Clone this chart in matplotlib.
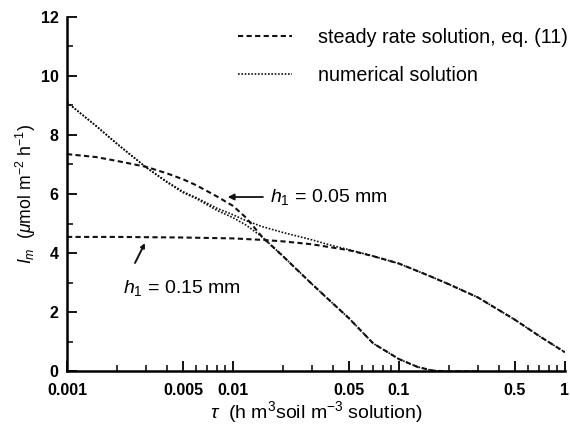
import matplotlib
matplotlib.use("Agg")
import matplotlib.pyplot as plt
from matplotlib.ticker import FixedLocator, NullFormatter, FixedFormatter

plt.rcParams["font.family"] = ["Liberation Sans", "DejaVu Sans"]
plt.rcParams["mathtext.fontset"] = "custom"
plt.rcParams["mathtext.rm"] = "Liberation Sans"
plt.rcParams["mathtext.it"] = "Liberation Sans:italic"

# steady rate solution, eq. (11)
tau_s05 = [0.001, 0.0015, 0.002, 0.003, 0.004, 0.005, 0.006, 0.008, 0.01,
           0.012, 0.015, 0.02, 0.03, 0.04, 0.05, 0.07, 0.1, 0.13, 0.16, 0.2, 0.3]
im_s05 = [7.35, 7.25, 7.12, 6.92, 6.7, 6.5, 6.3, 5.92, 5.6,
          5.2, 4.55, 3.9, 2.95, 2.3, 1.8, 0.95, 0.42, 0.15, 0.03, 0.0, 0.0]

tau_s15 = [0.001, 0.002, 0.005, 0.01, 0.015, 0.02, 0.03, 0.05, 0.07, 0.1,
           0.15, 0.2, 0.3, 0.5, 0.7, 1.0]
im_s15 = [4.55, 4.55, 4.53, 4.5, 4.45, 4.4, 4.3, 4.1, 3.9, 3.65,
          3.25, 2.95, 2.5, 1.75, 1.2, 0.65]

# numerical solution
tau_n05 = [0.001, 0.0015, 0.002, 0.003, 0.004, 0.005, 0.006, 0.008, 0.01,
           0.012, 0.015, 0.02, 0.03, 0.04, 0.05, 0.07, 0.1, 0.13, 0.16, 0.2, 0.3]
im_n05 = [9.1, 8.3, 7.7, 6.9, 6.4, 6.05, 5.85, 5.45, 5.2,
          4.95, 4.55, 3.9, 2.95, 2.3, 1.8, 0.95, 0.42, 0.15, 0.03, 0.0, 0.0]

tau_n15 = [0.001, 0.0015, 0.002, 0.003, 0.004, 0.005, 0.006, 0.008, 0.01,
           0.012, 0.015, 0.02, 0.03, 0.04, 0.05, 0.07, 0.1, 0.15, 0.2, 0.3,
           0.5, 0.7, 1.0]
im_n15 = [9.1, 8.3, 7.7, 6.9, 6.42, 6.08, 5.88, 5.52, 5.3,
          5.1, 4.9, 4.7, 4.45, 4.25, 4.12, 3.9, 3.65, 3.25, 2.95, 2.5,
          1.75, 1.2, 0.65]

x_ticks = [0.001, 0.005, 0.01, 0.05, 0.1, 0.5, 1]
x_tick_labels = ["0.001", "0.005", "0.01", "0.05", "0.1", "0.5", "1"]
y_ticks = [0, 2, 4, 6, 8, 10, 12]

dash = (0, (2.5, 1.6))
dot = (0, (1, 1))
ink = "#111111"

fig = plt.figure(figsize=(5.7, 4.26), dpi=100)
ax = fig.add_axes([0.1175, 0.128, 0.8735, 0.833])

ax.plot(tau_s05, im_s05, linestyle=dash, color=ink, lw=1.5,
        label="steady rate solution, eq. (11)")
ax.plot(tau_s15, im_s15, linestyle=dash, color=ink, lw=1.5)
ax.plot(tau_n05, im_n05, linestyle=dot, color=ink, lw=1.2,
        label="numerical solution")
ax.plot(tau_n15, im_n15, linestyle=dot, color=ink, lw=1.2)

ax.set_xscale("log")
ax.set_xlim(0.001, 1)
ax.set_ylim(0, 12)

ax.xaxis.set_major_locator(FixedLocator(x_ticks))
ax.xaxis.set_major_formatter(FixedFormatter(x_tick_labels))
minor_x = [m * 10.0 ** e for e in (-3, -2, -1) for m in (2, 3, 4, 6, 7, 8, 9)]
ax.xaxis.set_minor_locator(FixedLocator(minor_x))
ax.xaxis.set_minor_formatter(NullFormatter())
ax.yaxis.set_major_locator(FixedLocator(y_ticks))
ax.yaxis.set_minor_locator(FixedLocator([1, 3, 5, 7, 9, 11]))

for side in ("top", "right"):
    ax.spines[side].set_visible(False)
for side in ("left", "bottom"):
    ax.spines[side].set_linewidth(1.8)

ax.tick_params(which="major", direction="in", length=7, width=1.3,
               labelsize=11.5)
ax.tick_params(axis="x", which="major", pad=8)
ax.tick_params(axis="y", which="major", pad=6)
ax.tick_params(which="minor", direction="in", length=4, width=1.1)
for lab in ax.get_xticklabels() + ax.get_yticklabels():
    lab.set_fontweight("bold")

ax.set_xlabel(r"$\tau$  (h m$^3$soil m$^{-3}$ solution)", fontsize=14, labelpad=1)
ax.set_ylabel(r"$I_m$  ($\mu$mol m$^{-2}$ h$^{-1}$)", fontsize=12.7)
ax.yaxis.set_label_coords(-0.058, 0.5)

leg = ax.legend(loc="upper left", bbox_to_anchor=(0.327, 0.99), frameon=False,
                borderaxespad=0, fontsize=14.2, handlelength=2.75,
                handletextpad=1.3, labelspacing=0.95)

ax.annotate(r"$h_1$ = 0.05 mm", xy=(0.0093, 5.9), xytext=(0.0167, 5.9),
            fontsize=14, va="center",
            arrowprops=dict(arrowstyle="-|>", color=ink, lw=1.3,
                            mutation_scale=9, shrinkA=3, shrinkB=0))
ax.annotate("", xy=(0.00295, 4.34), xytext=(0.00257, 3.67),
            arrowprops=dict(arrowstyle="-|>", color=ink, lw=1.4,
                            mutation_scale=6, shrinkA=0, shrinkB=0))
ax.text(0.00217, 2.82, r"$h_1$ = 0.15 mm", fontsize=14, va="center")

fig.savefig("out.png", dpi=100)
